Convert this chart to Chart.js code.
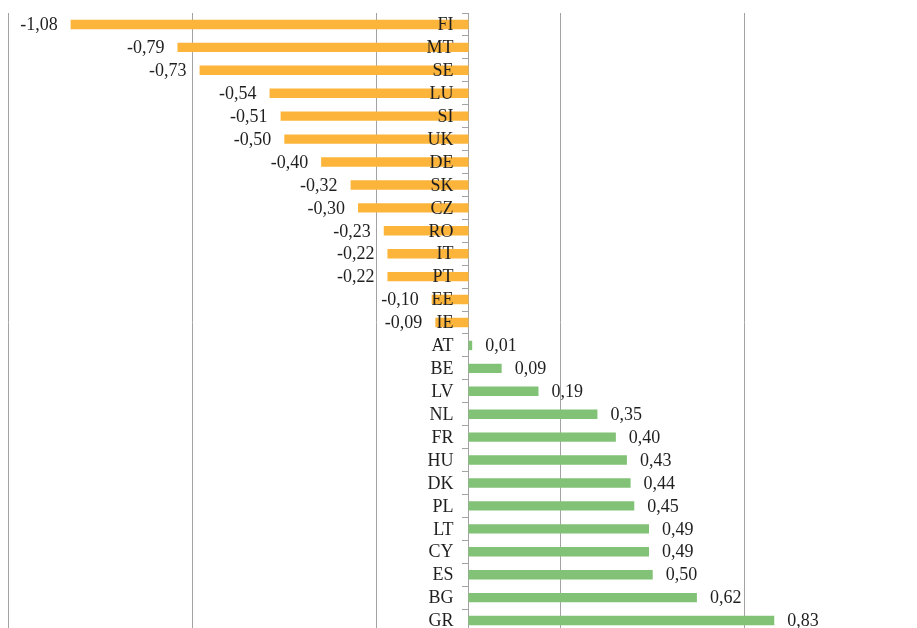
<!DOCTYPE html>
<html>
<head>
<meta charset="utf-8">
<script src="https://cdn.jsdelivr.net/npm/chart.js@4/dist/chart.umd.min.js"></script>
<style>
  html, body { margin: 0; padding: 0; background: #fff; overflow: hidden; }
  #wrap { position: relative; width: 940px; height: 645px; }
</style>
</head>
<body>
<div id="wrap"><canvas id="c"></canvas></div>
<script>
// Country codes, ordered from the largest decrease to the largest increase
const countries = ['FI','MT','SE','LU','SI','UK','DE','SK','CZ','RO','IT','PT','EE','IE',
                   'AT','BE','LV','NL','FR','HU','DK','PL','LT','CY','ES','BG','GR'];
const changes = [-1.08,-0.79,-0.73,-0.54,-0.51,-0.50,-0.40,-0.32,-0.30,-0.23,-0.22,-0.22,-0.10,-0.09,
                 0.01,0.09,0.19,0.35,0.40,0.43,0.44,0.45,0.49,0.49,0.50,0.62,0.83];
const gridTicks = [-1.25,-0.75,-0.25,0.25,0.75,1.25];

const NEG_COLOR = '#FDB43A';
const POS_COLOR = '#82C276';
const TEXT_COLOR = '#1f1f1f';
const FONT = { family: '"Liberation Serif", "Times New Roman", serif', size: 18 };

const fmt = v => v.toFixed(2).replace('.', ',');

// Category names sit beside the zero axis; values are written beyond each bar end
const barLabels = {
  id: 'barLabels',
  afterDatasetsDraw(chart) {
    const ctx = chart.ctx;
    const xs = chart.scales.x;
    const ys = chart.scales.y;
    const zero = xs.getPixelForValue(0);
    ctx.save();
    ctx.font = `${FONT.size}px ${FONT.family}`;
    ctx.fillStyle = TEXT_COLOR;
    ctx.textBaseline = 'middle';
    countries.forEach((name, i) => {
      const y = ys.getPixelForValue(i) + 1;
      ctx.textAlign = 'right';
      ctx.fillText(ys.getLabelForValue(i), zero - 15, y);
      const v = changes[i];
      const end = xs.getPixelForValue(v);
      if (v < 0) {
        ctx.textAlign = 'right';
        ctx.fillText(fmt(v), end - 13, y);
      } else {
        ctx.textAlign = 'left';
        ctx.fillText(fmt(v), end + 13, y);
      }
    });
    ctx.restore();
  }
};

new Chart(document.getElementById('c'), {
  type: 'bar',
  data: {
    labels: countries,
    datasets: [{
      data: changes,
      backgroundColor: ctx => (changes[ctx.dataIndex] < 0 ? NEG_COLOR : POS_COLOR),
      borderWidth: 0,
      barPercentage: 0.41,
      categoryPercentage: 1.0
    }]
  },
  options: {
    indexAxis: 'y',
    responsive: true,
    maintainAspectRatio: false,
    animation: false,
    layout: { padding: { left: 8, right: 11, top: 13, bottom: 13 } },
    plugins: { legend: { display: false }, tooltip: { enabled: false } },
    scales: {
      x: {
        min: -1.25,
        max: 1.25,
        afterBuildTicks: scale => { scale.ticks = gridTicks.map(v => ({ value: v })); },
        ticks: { display: false },
        grid: { color: '#a3a3a3', lineWidth: 1, drawTicks: false },
        border: { display: false }
      },
      y: {
        position: { x: 0 },
        offset: true,
        ticks: { display: false },
        grid: { display: true, drawOnChartArea: false, drawTicks: true, tickLength: 6, color: '#a3a3a3', offset: true },
        border: { display: true, color: '#a3a3a3', width: 1 }
      }
    }
  },
  plugins: [barLabels]
});
</script>
</body>
</html>
